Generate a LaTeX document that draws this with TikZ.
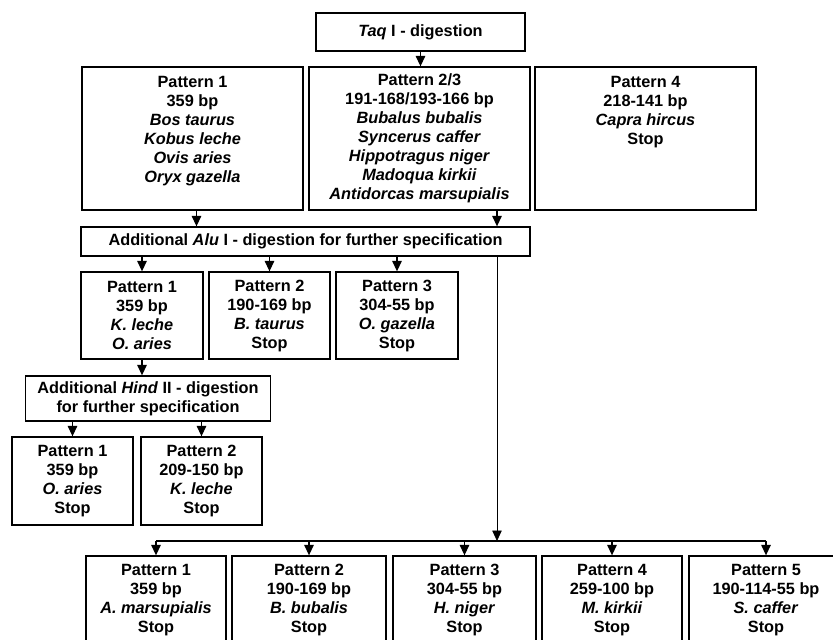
\documentclass[tikz,border=0pt]{standalone}
\usepackage{fontspec}
\setmainfont{Liberation Sans}
\usetikzlibrary{arrows.meta}

\begin{document}
\begin{tikzpicture}[
        x=1pt, y=-1pt,
        box/.style={draw, line width=1.3pt, align=center, inner sep=2pt,
            font=\fontsize{16.3}{19}\selectfont\bfseries},
        pattern/.style={box, minimum width=221pt, minimum height=143pt},
        result/.style={box, minimum height=88pt},
        link/.style={line width=1.3pt},
        thinlink/.style={line width=0.8pt},
        >={Triangle[length=10.5pt, width=9.5pt]},
    ]
    \useasboundingbox (0, 0) rectangle (833, 640);
    \node[box, minimum width=209pt, minimum height=38pt] (taq) at (420.5, 32) {\textit{Taq} I - digestion};
    \node[pattern] (p1)  at (192.5, 138.5) {Pattern 1\\359 bp\\\textit{Bos taurus}\\\textit{Kobus leche}\\\textit{Ovis aries}\\\textit{Oryx gazella}\\~};
    \node[pattern] (p23) at (419.5, 138.5) {Pattern 2/3\\191-168/193-166 bp\\\textit{Bubalus bubalis}\\\textit{Syncerus caffer}\\\textit{Hippotragus niger}\\\textit{Madoqua kirkii}\\\textit{Antidorcas marsupialis}};
    \node[pattern] (p4)  at (645.5, 138.5) {Pattern 4\\218-141 bp\\\textit{Capra hircus}\\Stop\\~\\~\\~};
    \node[box, minimum width=449pt, minimum height=29pt] (alu) at (305.5, 241.5) {Additional \textit{Alu} I - digestion for further specification};
    \node[result, minimum width=122pt, minimum height=87pt] (a1) at (142, 315.5)   {Pattern 1\\359 bp\\\textit{K. leche}\\\textit{O. aries}};
    \node[result, minimum width=121pt, minimum height=87pt] (a2) at (269.5, 315.5) {Pattern 2\\190-169 bp\\\textit{B. taurus}\\Stop};
    \node[result, minimum width=122pt, minimum height=87pt] (a3) at (397, 315.5)   {Pattern 3\\304-55 bp\\\textit{O. gazella}\\Stop};
    \node[box, minimum width=245pt, minimum height=45pt] (hind) at (148, 398.5) {Additional \textit{Hind} II - digestion\\for further specification};
    \node[result, minimum width=121pt] (h1) at (72.5, 481)  {Pattern 1\\359 bp\\\textit{O. aries}\\Stop};
    \node[result, minimum width=121pt] (h2) at (201.5, 481) {Pattern 2\\209-150 bp\\\textit{K. leche}\\Stop};
    \node[result, minimum width=140pt] (b1) at (156, 600)   {Pattern 1\\359 bp\\\textit{A. marsupialis}\\Stop};
    \node[result, minimum width=154pt] (b2) at (309, 600)   {Pattern 2\\190-169 bp\\\textit{B. bubalis}\\Stop};
    \node[result, minimum width=143pt] (b3) at (464.5, 600) {Pattern 3\\304-55 bp\\\textit{H. niger}\\Stop};
    \node[result, minimum width=140pt] (b4) at (612, 600)   {Pattern 4\\259-100 bp\\\textit{M. kirkii}\\Stop};
    \node[result, minimum width=154pt] (b5) at (766, 600)   {Pattern 5\\190-114-55 bp\\\textit{S. caffer}\\Stop};
    \coordinate (split) at (497, 541);
    \draw[link, ->] (taq) -- (taq |- p23.north);
    \draw[link, ->] ([xshift=4pt]p1.south) -- ([xshift=4pt]p1.south |- alu.north);
    \draw[link, ->] (p23.south -| split) -- (alu.north -| split);
    \draw[link, ->] (a1 |- alu.south) -- (a1);
    \draw[link, ->] (a2 |- alu.south) -- (a2);
    \draw[link, ->] (a3 |- alu.south) -- (a3);
    \draw[link, ->] (a1) -- (a1 |- hind.north);
    \draw[link, ->] (h1 |- hind.south) -- (h1);
    \draw[link, ->] (h2 |- hind.south) -- (h2);
    \draw[thinlink, ->] (alu.south -| split) -- (split);
    \draw[link] (b1 |- split) -- (b5 |- split);
    \foreach \b in {b1, b2, b3, b4, b5}
        \draw[link, ->] (\b |- split) -- (\b);
\end{tikzpicture}
\end{document}
